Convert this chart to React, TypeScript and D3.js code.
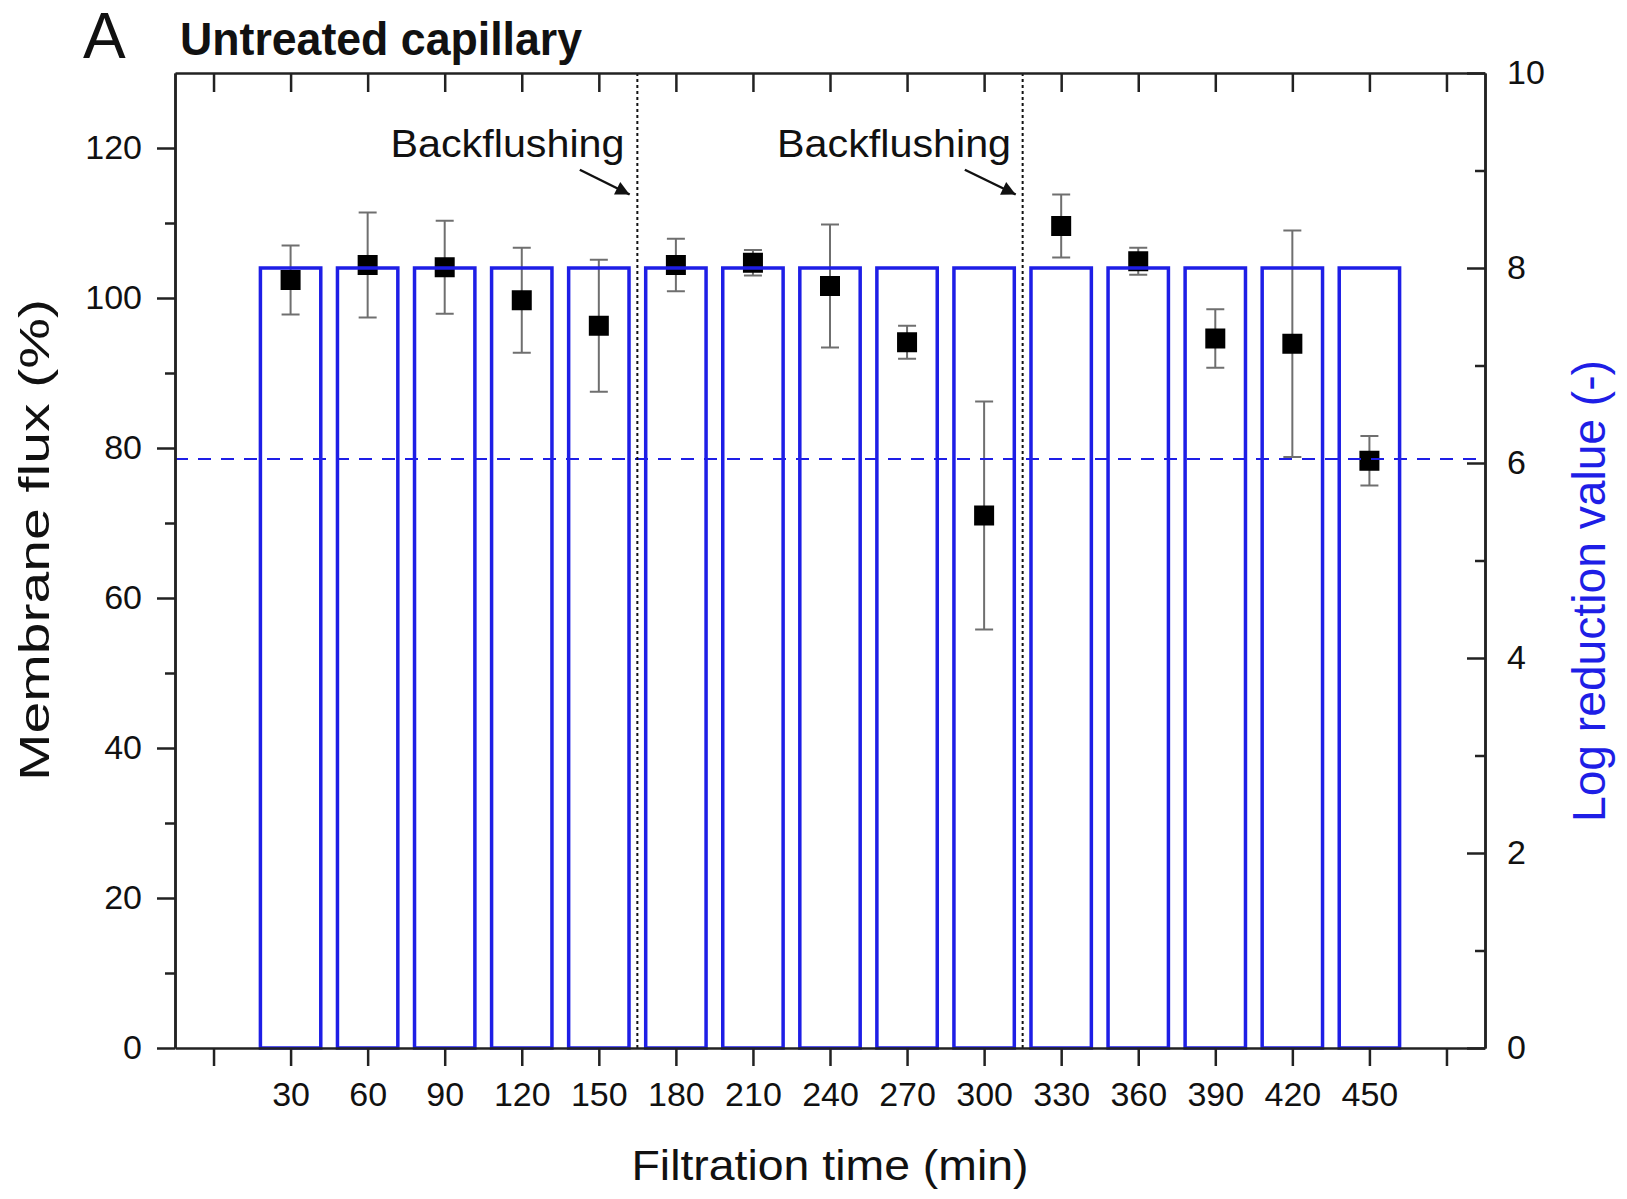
import { useEffect, useRef } from 'react';
import * as d3 from 'd3';

// filtration time (min)
const times = [30, 60, 90, 120, 150, 180, 210, 240, 270, 300, 330, 360, 390, 420, 450];
// membrane flux (%) and its standard deviation
const flux = [102.4, 104.4, 104.1, 99.7, 96.3, 104.4, 104.7, 101.6, 94.1, 71.0, 109.6, 104.9, 94.6, 93.9, 78.3];
const fluxSd = [4.6, 7.0, 6.2, 7.0, 8.8, 3.5, 1.7, 8.2, 2.2, 15.2, 4.2, 1.8, 3.9, 15.1, 3.3];
// log reduction value (-)
const lrv = [8, 8, 8, 8, 8, 8, 8, 8, 8, 8, 8, 8, 8, 8, 8];
const lrvLimit = 6.04;
// backflushing events (min)
const backflushTimes = [165, 315];
const backflushLabels = [
  { text: 'Backflushing', x: 160, y: 118.8 },
  { text: 'Backflushing', x: 310.5, y: 118.8 },
];
const backflushArrows = [
  { x0: 142.6, y0: 117.1, x1: 162, y1: 113.8 },
  { x0: 292.5, y0: 117.1, x1: 312.3, y1: 113.8 },
];
const xTicks = d3.range(0, 481, 30);
const yTicks = d3.range(0, 121, 20);
const yMinor = d3.range(10, 121, 20);
const rTicks = d3.range(0, 11, 2);
const rMinor = d3.range(1, 10, 2);

const BLUE = '#1e1ee6';
const FONT = '"Liberation Sans", Arial, sans-serif';

export default function App() {
  const ref = useRef<SVGSVGElement>(null);

  useEffect(() => {
    const svg = d3.select(ref.current);
    svg.selectAll('*').remove();

    const width = 1627;
    const height = 1199;
    svg.attr('width', width).attr('height', height);

    const left = 175, right = 1485, top = 73, bottom = 1048;

    const x = d3.scaleLinear().domain([-15, 495]).range([left, right]);
    const yL = d3.scaleLinear().domain([0, 130]).range([bottom, top]);
    const yR = d3.scaleLinear().domain([0, 10]).range([bottom, top]);

    svg.append('rect').attr('width', width).attr('height', height).attr('fill', '#fff');

    const defs = svg.append('defs');
    defs.append('marker')
      .attr('id', 'arrow')
      .attr('viewBox', '0 0 10 10')
      .attr('refX', 10)
      .attr('refY', 5)
      .attr('markerWidth', 20)
      .attr('markerHeight', 14)
      .attr('markerUnits', 'userSpaceOnUse')
      .attr('orient', 'auto')
      .append('path')
      .attr('d', 'M0,0 L10,5 L0,10 Z')
      .attr('fill', '#111');

    const g = svg.append('g');

    // error bars
    const err = g.append('g').attr('stroke', '#6f6f6f').attr('stroke-width', 2);
    times.forEach((t, i) => {
      const cx = x(t);
      const hi = yL(flux[i] + fluxSd[i]);
      const lo = yL(flux[i] - fluxSd[i]);
      err.append('line').attr('x1', cx).attr('x2', cx).attr('y1', hi).attr('y2', lo);
      err.append('line').attr('x1', cx - 9).attr('x2', cx + 9).attr('y1', hi).attr('y2', hi);
      err.append('line').attr('x1', cx - 9).attr('x2', cx + 9).attr('y1', lo).attr('y2', lo);
    });

    // flux markers
    g.append('g')
      .selectAll('rect')
      .data(times)
      .join('rect')
      .attr('x', (d) => x(d) - 10)
      .attr('y', (_, i) => yL(flux[i]) - 10)
      .attr('width', 20)
      .attr('height', 20)
      .attr('fill', '#000');

    // LRV bars (outline only)
    const barW = x(23.5) - x(0);
    g.append('g')
      .selectAll('rect')
      .data(times)
      .join('rect')
      .attr('x', (d) => x(d) - barW / 2)
      .attr('y', (_, i) => yR(lrv[i]))
      .attr('width', barW)
      .attr('height', (_, i) => yR(0) - yR(lrv[i]))
      .attr('fill', 'none')
      .attr('stroke', BLUE)
      .attr('stroke-width', 3.5);

    // LRV limit
    g.append('line')
      .attr('x1', left).attr('x2', right)
      .attr('y1', yR(lrvLimit)).attr('y2', yR(lrvLimit))
      .attr('stroke', BLUE)
      .attr('stroke-width', 2)
      .attr('stroke-dasharray', '13,10');

    // backflushing lines
    g.append('g')
      .selectAll('line')
      .data(backflushTimes)
      .join('line')
      .attr('x1', (d) => x(d)).attr('x2', (d) => x(d))
      .attr('y1', top).attr('y2', bottom)
      .attr('stroke', '#111')
      .attr('stroke-width', 2)
      .attr('stroke-dasharray', '3,3');

    g.append('g')
      .selectAll('text')
      .data(backflushLabels)
      .join('text')
      .attr('x', (d) => x(d.x))
      .attr('y', (d) => yL(d.y))
      .attr('text-anchor', 'end')
      .attr('font-family', FONT)
      .attr('font-size', 38)
      .attr('textLength', 234)
      .attr('lengthAdjust', 'spacingAndGlyphs')
      .attr('fill', '#111')
      .text((d) => d.text);

    g.append('g')
      .selectAll('line')
      .data(backflushArrows)
      .join('line')
      .attr('x1', (d) => x(d.x0)).attr('y1', (d) => yL(d.y0))
      .attr('x2', (d) => x(d.x1)).attr('y2', (d) => yL(d.y1))
      .attr('stroke', '#111')
      .attr('stroke-width', 2.5)
      .attr('marker-end', 'url(#arrow)');

    // axes
    const styleAxis = (sel: d3.Selection<SVGGElement, unknown, null, undefined>, color = '#111') => {
      sel.selectAll('path').attr('stroke', '#222').attr('stroke-width', 2.5);
      sel.selectAll('line').attr('stroke', '#222').attr('stroke-width', 2.5);
      sel.selectAll('text').attr('fill', color).style('font-size', '34px').style('font-family', FONT);
    };

    const xb = g.append('g')
      .attr('transform', `translate(0,${bottom})`)
      .call(d3.axisBottom(x).tickValues(xTicks).tickSize(18).tickSizeOuter(0).tickPadding(16)
        .tickFormat((d) => (+d >= 30 && +d <= 450 ? String(d) : '')));
    styleAxis(xb);

    const xt = g.append('g')
      .attr('transform', `translate(0,${top})`)
      .call(d3.axisTop(x).tickValues(xTicks).tickSize(-19).tickSizeOuter(0).tickFormat(() => ''));
    styleAxis(xt);

    const yl = g.append('g')
      .attr('transform', `translate(${left},0)`)
      .call(d3.axisLeft(yL).tickValues(yTicks).tickSize(18).tickSizeOuter(0).tickPadding(15));
    styleAxis(yl);
    const ylm = g.append('g')
      .attr('transform', `translate(${left},0)`)
      .call(d3.axisLeft(yL).tickValues(yMinor).tickSize(10).tickSizeOuter(0).tickFormat(() => ''));
    styleAxis(ylm);

    const yr = g.append('g')
      .attr('transform', `translate(${right},0)`)
      .call(d3.axisRight(yR).tickValues(rTicks).tickSize(-18).tickSizeOuter(0).tickPadding(22));
    styleAxis(yr);
    yr.selectAll('text').attr('x', 22);
    const yrm = g.append('g')
      .attr('transform', `translate(${right},0)`)
      .call(d3.axisRight(yR).tickValues(rMinor).tickSize(-10).tickSizeOuter(0).tickFormat(() => ''));
    styleAxis(yrm);

    // titles
    svg.append('text')
      .attr('x', 83).attr('y', 58)
      .attr('font-family', FONT).attr('font-size', 64)
      .attr('fill', '#111')
      .text('A');
    svg.append('text')
      .attr('x', 180).attr('y', 55)
      .attr('font-family', FONT).attr('font-size', 46).attr('font-weight', 'bold')
      .attr('textLength', 402).attr('lengthAdjust', 'spacingAndGlyphs')
      .attr('fill', '#111')
      .text('Untreated capillary');

    svg.append('text')
      .attr('x', (left + right) / 2).attr('y', 1180)
      .attr('text-anchor', 'middle')
      .attr('font-family', FONT).attr('font-size', 43)
      .attr('textLength', 397).attr('lengthAdjust', 'spacingAndGlyphs')
      .attr('fill', '#111')
      .text('Filtration time (min)');

    svg.append('text')
      .attr('transform', `translate(49,540) rotate(-90)`)
      .attr('text-anchor', 'middle')
      .attr('font-family', FONT).attr('font-size', 42)
      .attr('textLength', 482).attr('lengthAdjust', 'spacingAndGlyphs')
      .attr('fill', '#111')
      .text('Membrane flux (%)');

    svg.append('text')
      .attr('transform', `translate(1605,591) rotate(-90)`)
      .attr('text-anchor', 'middle')
      .attr('font-family', FONT).attr('font-size', 46)
      .attr('textLength', 462).attr('lengthAdjust', 'spacingAndGlyphs')
      .attr('fill', BLUE)
      .text('Log reduction value (-)');
  }, []);

  return <svg ref={ref} style={{ position: 'absolute', left: 0, top: 0, display: 'block' }}></svg>;
}
